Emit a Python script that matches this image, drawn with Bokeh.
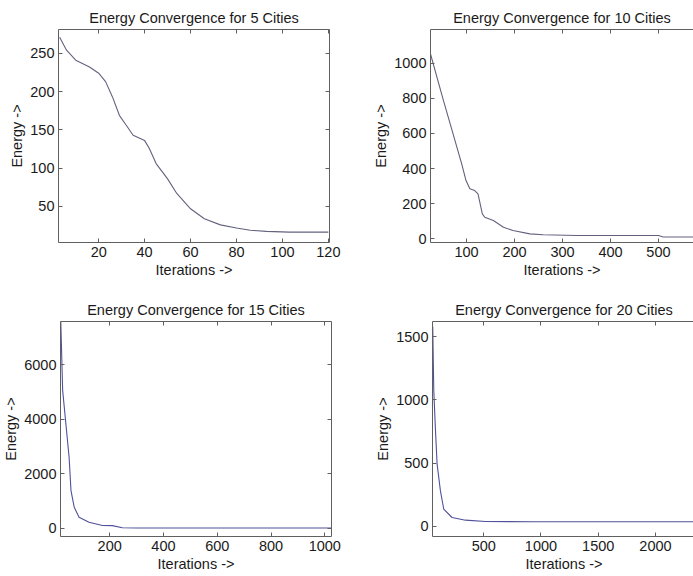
from bokeh.plotting import figure
from bokeh.layouts import column, row
from bokeh.models import FixedTicker, LinearAxis
from bokeh.embed import file_html
from bokeh.resources import INLINE

# ---- data ----
iter5 = [3, 6, 10, 16, 20, 23, 26, 29, 32, 35, 40, 42, 45, 50, 54, 60, 66, 73, 80, 86, 93, 103, 120]
energy5 = [271, 254, 241, 232, 224, 213, 193, 169, 156, 143, 136, 126, 106, 86, 67, 47, 34, 26, 22, 19, 17.5, 16.5, 16.5]

iter10 = [25, 51, 72, 90, 99, 107, 117, 124, 133, 138, 156, 177, 197, 232, 260, 330, 500, 510, 575]
energy10 = [1053, 797, 598, 427, 332, 285, 275, 256, 142, 123, 104, 66, 47, 28, 23, 19, 19, 10, 10]

iter15 = [18, 25, 37, 49, 56, 68, 86, 123, 173, 210, 247, 300, 1025]
energy15 = [7600, 5050, 3830, 2600, 1380, 770, 400, 220, 100, 95, 15, 10, 10]

iter20 = [54, 63, 78, 92, 121, 150, 223, 340, 515, 922, 2350]
energy20 = [1580, 1077, 759, 495, 283, 138, 71, 50, 40, 37, 37]

titles = ["Energy Convergence for 5 Cities", "Energy Convergence for 10 Cities",
          "Energy Convergence for 15 Cities", "Energy Convergence for 20 Cities"]
xticks = [[20, 40, 60, 80, 100, 120], [100, 200, 300, 400, 500],
          [200, 400, 600, 800, 1000], [500, 1000, 1500, 2000]]
yticks = [[50, 100, 150, 200, 250], [0, 200, 400, 600, 800, 1000],
          [0, 2000, 4000, 6000], [0, 500, 1000, 1500]]

FONT = "Liberation Sans"
TXT = "#1a1a1a"
AX = "#606060"
FS = "14.5px"


def style_axis(ax):
    ax.major_tick_in = 4
    ax.major_tick_out = 0
    ax.minor_tick_line_color = None
    ax.axis_line_color = AX
    ax.major_tick_line_color = AX
    ax.major_label_text_font = FONT
    ax.major_label_text_font_size = FS
    ax.major_label_text_color = TXT
    ax.axis_label_text_font = FONT
    ax.axis_label_text_font_size = FS
    ax.axis_label_text_font_style = "normal"
    ax.axis_label_text_color = TXT
    ax.major_label_standoff = 4
    ax.axis_label_standoff = 2


def mirror_axis(ticks):
    ax = LinearAxis(ticker=FixedTicker(ticks=ticks))
    ax.major_tick_in = 4
    ax.major_tick_out = 0
    ax.minor_tick_line_color = None
    ax.axis_line_color = AX
    ax.major_tick_line_color = AX
    ax.major_label_text_font_size = "0px"
    ax.major_label_text_color = None
    ax.major_label_standoff = 0
    return ax


def make(idx, xs, ys, xr, yr, left, fw, right, top, fh, bottom, color, cut_right, tstand):
    p = figure(output_backend="svg", toolbar_location=None,
               frame_width=fw, frame_height=fh,
               min_border_left=left, min_border_right=right,
               min_border_top=top, min_border_bottom=bottom,
               x_range=xr, y_range=yr, title=titles[idx])
    p.title.align = "center"
    p.title.text_font = FONT
    p.title.text_font_size = FS
    p.title.text_font_style = "normal"
    p.title.text_color = TXT
    p.title.standoff = tstand
    p.grid.visible = False
    p.background_fill_color = "white"
    p.border_fill_color = "white"
    p.outline_line_color = None
    style_axis(p.xaxis[0])
    style_axis(p.yaxis[0])
    p.xaxis[0].ticker = FixedTicker(ticks=xticks[idx])
    p.yaxis[0].ticker = FixedTicker(ticks=yticks[idx])
    p.xaxis[0].axis_label = "Iterations ->"
    p.yaxis[0].axis_label = "Energy ->"
    p.add_layout(mirror_axis(xticks[idx]), "above")
    if not cut_right:
        p.add_layout(mirror_axis(yticks[idx]), "right")
    p.line(xs, ys, line_color=color, line_width=1.1)
    return p


top_col = "#62627e"
bot_col = "#50509c"
p1 = make(0, iter5, energy5, (2.5, 120.5), (3, 281), 58, 271, 19, 29, 213, 48, top_col, False, 7)
p2 = make(1, iter10, energy10, (25, 573), (-21, 1192), 82, 263, 0, 29, 213, 48, top_col, True, 7)
p3 = make(2, iter15, energy15, (17, 1025), (-304, 7576), 58, 271, 19, 31, 215, 40, bot_col, False, 8)
p4 = make(3, iter20, energy20, (52, 2350), (-79, 1619), 82, 263, 0, 31, 215, 40, bot_col, True, 8)

layout = column(row(p1, p2, spacing=0), row(p3, p4, spacing=0), spacing=0)
open("out.html", "w").write(file_html(layout, INLINE))
